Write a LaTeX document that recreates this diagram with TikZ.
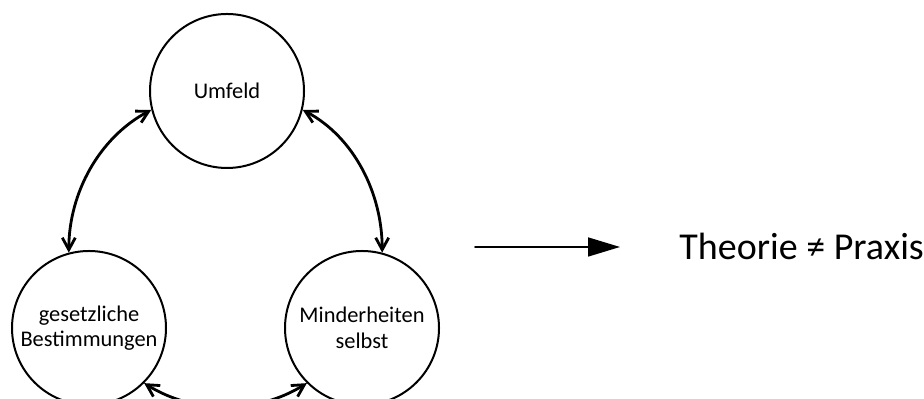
\documentclass[tikz,border=0pt]{standalone}
\usepackage{fontspec}
\setmainfont{Carlito}
\usetikzlibrary{arrows.meta}
\begin{document}
\begin{tikzpicture}[x=0.5pt, y=0.5pt, line join=round, line cap=round,
	kreis/.style={draw, circle, line width=1pt, minimum size=77pt, inner sep=0pt, align=center, font=\fontsize{11.2}{12.8}\selectfont},
	pfeil/.style={{Straight Barb[length=6pt,width=6.5pt]}-{Straight Barb[length=6pt,width=6.5pt]}, line width=1.4pt, looseness=0.92}]
	\useasboundingbox (0,0) rectangle (924,399);
	\clip (0,0) rectangle (924,399);
	\node[kreis] (umfeld) at (227,308) {Umfeld};
	\node[kreis] (gesetz) at (89,71) {gesetzliche\\Bestimmungen};
	\node[kreis] (minder) at (362,71) {Minderheiten\\selbst};
	% Pfeile auf dem Umkreis der drei Kreise
	\draw[pfeil] (gesetz.105) to[out=90, in=208] (umfeld.194);
	\draw[pfeil] (umfeld.346) to[out=332, in=90] (minder.75);
	\draw[pfeil] (minder.225) to[out=212, in=328] (gesetz.315);
	\coordinate (start) at (475,152);
	\coordinate (ziel) at (620,152);
	\draw[-{Triangle[length=16pt,width=9.5pt]}, line width=0.8pt] (start) -- (ziel);
	\node[anchor=west, inner sep=0pt, font=\fontsize{19}{22}\selectfont] (theorie) at (679,153) {Theorie ≠ Praxis};
\end{tikzpicture}
\end{document}
